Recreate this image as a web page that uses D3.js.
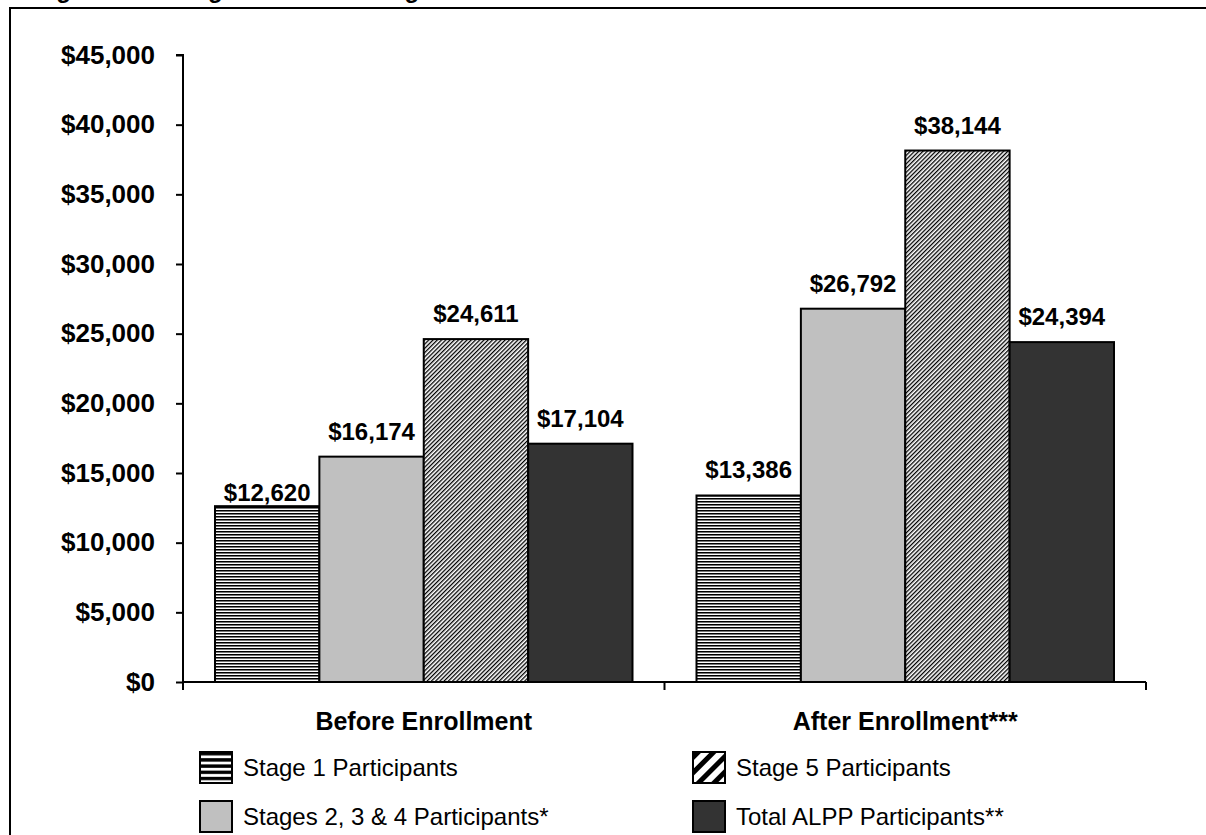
<!DOCTYPE html>
<html><head><meta charset="utf-8">
<script src="https://cdn.jsdelivr.net/npm/d3@7"></script>
<style>body{margin:0;background:#fff;} svg{display:block;font-family:Arial,"Liberation Sans",sans-serif;}</style>
</head><body>
<svg id="chart" width="1206" height="835"></svg>
<script>
const categories = ["Before Enrollment", "After Enrollment***"];
const seriesNames = ["Stage 1 Participants", "Stages 2, 3 & 4 Participants*", "Stage 5 Participants", "Total ALPP Participants**"];
const stage1 = [12620, 13386];
const stages234 = [16174, 26792];
const stage5 = [24611, 38144];
const totalALPP = [17104, 24394];
const yTicks = [0, 5000, 10000, 15000, 20000, 25000, 30000, 35000, 40000, 45000];
const titleText = "Figure 4: Average Annual Earnings Before and After Enrollment";

(function(){
const seriesValues = [stage1, stages234, stage5, totalALPP];
const svg = d3.select("#chart");
const defs = svg.append("defs");

// Patterns
const p1 = defs.append("pattern").attr("id","pStage1").attr("patternUnits","userSpaceOnUse").attr("width",4).attr("height",3);
p1.append("rect").attr("width",4).attr("height",3).attr("fill","#fff");
p1.append("rect").attr("y",0).attr("width",4).attr("height",1).attr("fill","#000");
p1.append("rect").attr("y",1).attr("width",4).attr("height",1).attr("fill","#777");
const p5 = defs.append("pattern").attr("id","pStage5").attr("patternUnits","userSpaceOnUse").attr("width",3).attr("height",3).attr("patternTransform","rotate(45)");
p5.append("rect").attr("width",3).attr("height",3).attr("fill","#fff");
p5.append("rect").attr("width",1.3).attr("height",3).attr("fill","#000");
const l1 = defs.append("pattern").attr("id","lStage1").attr("patternUnits","userSpaceOnUse").attr("width",6).attr("height",6.2).attr("y",752);
l1.append("rect").attr("width",6).attr("height",6.2).attr("fill","#fff");
l1.append("rect").attr("width",6).attr("height",3.4).attr("fill","#000");
const l5 = defs.append("pattern").attr("id","lStage5").attr("patternUnits","userSpaceOnUse").attr("width",11).attr("height",11).attr("patternTransform","rotate(45)");
l5.append("rect").attr("width",11).attr("height",11).attr("fill","#fff");
l5.append("rect").attr("width",5).attr("height",11).attr("fill","#000");

const fills = ["url(#pStage1)", "#c0c0c0", "url(#pStage5)", "#333333"];
const legendFills = ["url(#lStage1)", "#c0c0c0", "url(#lStage5)", "#333333"];

// Title (mostly clipped off the top, as in the source page)
svg.append("text").attr("x",35).attr("y",-2).attr("font-size",24).attr("font-weight","bold").attr("fill","#000").text(titleText);

// Frame
svg.append("rect").attr("x",10).attr("y",8).attr("width",1260).attr("height",900).attr("fill","none").attr("stroke","#000").attr("stroke-width",2);

const pl = 183, pr = 1146, pt = 55, pb = 682;
const y = d3.scaleLinear().domain([0,45000]).range([pb, pt]);
const x0 = d3.scaleBand().domain(categories).range([pl, pr]).paddingInner(0).paddingOuter(0);
const x1 = d3.scaleBand().domain(d3.range(seriesNames.length)).range([32, x0.bandwidth()-32]).padding(0);

// Bars
categories.forEach((c, ci) => {
  seriesValues.forEach((vals, si) => {
    svg.append("rect")
      .attr("x", x0(c) + x1(si))
      .attr("y", y(vals[ci]))
      .attr("width", x1.bandwidth())
      .attr("height", y(0) - y(vals[ci]))
      .attr("fill", fills[si])
      .attr("stroke", "#000").attr("stroke-width", 2);
    const off = (ci === 0 && si === 0) ? 5 : 17;
    svg.append("text")
      .attr("x", x0(c) + x1(si) + x1.bandwidth()/2)
      .attr("y", y(vals[ci]) - off)
      .attr("text-anchor","middle").attr("font-size",24).attr("font-weight","bold")
      .text("$" + d3.format(",")(vals[ci]));
  });
});

// Y axis
const yAxis = d3.axisLeft(y).tickValues(yTicks).tickSize(7).tickPadding(21).tickFormat(d => "$" + d3.format(",")(d));
const gy = svg.append("g").attr("transform", `translate(${pl},0)`).call(yAxis);
gy.select(".domain").attr("stroke","#000").attr("stroke-width",2).attr("d", `M-7,${pt}H0V${pb}`);
gy.selectAll(".tick line").attr("stroke","#000").attr("stroke-width",2);
gy.selectAll(".tick text").attr("font-size",26).attr("font-weight","bold").attr("fill","#000").attr("font-family","Arial, 'Liberation Sans', sans-serif");

// X axis
const gx = svg.append("g").attr("transform", `translate(0,${pb})`);
gx.append("line").attr("x1",pl).attr("x2",pr).attr("stroke","#000").attr("stroke-width",2);
[pl, pl + x0.bandwidth(), pr].forEach(t => {
  gx.append("line").attr("x1",t).attr("x2",t).attr("y1",0).attr("y2",8).attr("stroke","#000").attr("stroke-width",2);
});
categories.forEach(c => {
  gx.append("text").attr("x", x0(c) + x0.bandwidth()/2).attr("y", 48)
    .attr("text-anchor","middle").attr("font-size",25).attr("font-weight","bold").text(c);
});

// Legend
const legendPos = [[200,752],[200,801],[693,752],[693,801]];
seriesNames.forEach((n, i) => {
  const [lx, ly] = legendPos[i];
  svg.append("rect").attr("x",lx).attr("y",ly).attr("width",32).attr("height",31)
    .attr("fill", legendFills[i]).attr("stroke","#000").attr("stroke-width",2);
  svg.append("text").attr("x", lx + 43).attr("y", ly + 24).attr("font-size",24).text(n);
});
})();
</script>
</body></html>
